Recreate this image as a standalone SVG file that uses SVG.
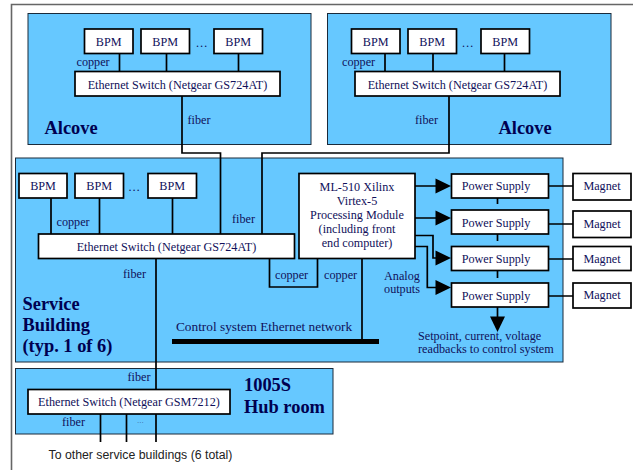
<svg xmlns="http://www.w3.org/2000/svg" width="633" height="470" viewBox="0 0 633 470">
<style>
text{font-family:"Liberation Serif","Times New Roman",serif;fill:#10105a;font-size:12.2px}
.m{text-anchor:middle}
.b{font-weight:bold;font-size:18.4px;fill:#000050}
.area{fill:#66c8ff;stroke:#1a2a3a;stroke-width:1}
.box{fill:#fff;stroke:#000;stroke-width:1.7}
.c{fill:none;stroke:#000;stroke-width:1.7}
.a{fill:#000;stroke:none}
</style>
<rect width="633" height="470" fill="#fff"/>
<path d="M11.500 470V4.500H633" fill="none" stroke="#666" stroke-width="1.6"/>
<g id="areas">
<rect id="alcove-1" class="area" x="28" y="13.500" width="283" height="131"/>
<rect id="alcove-2" class="area" x="327.500" y="13.500" width="283.500" height="131"/>
<rect id="service-building" class="area" x="15.500" y="158" width="547.500" height="204"/>
<rect id="hub-room" class="area" x="15.500" y="368.500" width="317.500" height="65.500"/>
</g>
<g id="connectors">
<path class="c" d="M119.500 53V71.500M166.500 53V71.500M238.500 53V71.500M182 96V153H220.500V234"/>
<path class="c" d="M385 53V71.500M433 53V71.500M504.500 53V71.500M449 96V153H262V234"/>
<path class="c" d="M51 198V234M99.500 198V234M172.500 198V234"/>
<path class="c" d="M156 258V442M269.500 258V287H317.500V258M362 258V342"/>
<path class="c" d="M100.500 414V442M126.500 414V442"/>
<path d="M172 341.500H379" fill="none" stroke="#000" stroke-width="5"/>
<path class="c" d="M415 186H440M415 218H440M415 235.500H433V258H440M415 246.500H427.300V287.500H440"/>
<path class="a" d="M435.500 178.500 451 186 435.500 193.500ZM435.500 210.500 451 218 435.500 225.500ZM435.500 250.500 451 258 435.500 265.500ZM435.500 280 451 287.500 435.500 295Z"/>
<path class="c" d="M497.500 198V204M497.500 234V241M497.500 270.500V278M497.500 307V322"/>
<path class="a" d="M490 316.500 505 316.500 497.500 332Z"/>
<path class="c" d="M548.500 186H573M548.500 224H573M548.500 259H573M548.500 296H573"/>
</g>
<g id="alcove-1-nodes">
<g id="a1-bpm1"><rect class="box" x="84.500" y="29" width="48.500" height="24.500"/><text class="m" x="108.700" y="46">BPM</text></g>
<g id="a1-bpm2"><rect class="box" x="141" y="29" width="48.500" height="24.500"/><text class="m" x="165.200" y="46">BPM</text></g>
<g id="a1-bpm3"><rect class="box" x="214" y="29" width="48.500" height="24.500"/><text class="m" x="238.200" y="46">BPM</text></g>
<g id="a1-switch"><rect class="box" x="75" y="71.500" width="205" height="24.500"/><text class="m" x="177.500" y="89">Ethernet Switch (Netgear GS724AT)</text></g>
</g>
<g id="alcove-2-nodes">
<g id="a2-bpm1"><rect class="box" x="351.500" y="29" width="48.500" height="24.500"/><text class="m" x="375.700" y="46">BPM</text></g>
<g id="a2-bpm2"><rect class="box" x="408" y="29" width="48.500" height="24.500"/><text class="m" x="432.200" y="46">BPM</text></g>
<g id="a2-bpm3"><rect class="box" x="481" y="29" width="48.500" height="24.500"/><text class="m" x="505.200" y="46">BPM</text></g>
<g id="a2-switch"><rect class="box" x="355" y="71.500" width="205" height="24.500"/><text class="m" x="457.500" y="89">Ethernet Switch (Netgear GS724AT)</text></g>
</g>
<g id="service-nodes">
<g id="s-bpm1"><rect class="box" x="19" y="173.500" width="48" height="24.500"/><text class="m" x="43" y="190">BPM</text></g>
<g id="s-bpm2"><rect class="box" x="75" y="173.500" width="48.500" height="24.500"/><text class="m" x="99.200" y="190">BPM</text></g>
<g id="s-bpm3"><rect class="box" x="148" y="173.500" width="48.500" height="24.500"/><text class="m" x="172.200" y="190">BPM</text></g>
<g id="s-switch"><rect class="box" x="38.500" y="234" width="256" height="24.500"/><text class="m" x="166.500" y="251">Ethernet Switch (Netgear GS724AT)</text></g>
<g id="processing"><rect class="box" x="299" y="173.500" width="116" height="85"/><text class="m" x="357" y="191">ML-510 Xilinx</text><text class="m" x="357" y="205">Virtex-5</text><text class="m" x="357" y="219">Processing Module</text><text class="m" x="357" y="233">(including front</text><text class="m" x="357" y="247">end computer)</text></g>
<g id="ps1"><rect class="box" x="451.500" y="174" width="97" height="24"/><text class="m" x="496" y="190">Power Supply</text></g>
<g id="ps2"><rect class="box" x="451.500" y="210" width="97" height="24"/><text class="m" x="496" y="227">Power Supply</text></g>
<g id="ps3"><rect class="box" x="451.500" y="246.500" width="97" height="24"/><text class="m" x="496" y="263">Power Supply</text></g>
<g id="ps4"><rect class="box" x="451.500" y="283" width="97" height="24"/><text class="m" x="496" y="300">Power Supply</text></g>
<g id="mag1"><rect class="box" x="573" y="173.500" width="58" height="26.500"/><text class="m" x="602" y="190">Magnet</text></g>
<g id="mag2"><rect class="box" x="573" y="211" width="58" height="26.500"/><text class="m" x="602" y="228">Magnet</text></g>
<g id="mag3"><rect class="box" x="573" y="246.500" width="58" height="24"/><text class="m" x="602" y="263">Magnet</text></g>
<g id="mag4"><rect class="box" x="573" y="283" width="58" height="25"/><text class="m" x="602" y="299">Magnet</text></g>
</g>
<g id="hub-nodes">
<g id="h-switch"><rect class="box" x="28" y="389.500" width="202" height="24.500"/><text class="m" x="129" y="406">Ethernet Switch (Netgear GSM7212)</text></g>
</g>
<g id="labels">
<text x="76.500" y="66">copper</text><text x="187.500" y="124">fiber</text><text class="b" x="44.500" y="134">Alcove</text><text x="201.500" y="46.500" class="m">…</text>
<text x="342" y="66">copper</text><text x="415" y="124">fiber</text><text class="b" x="498.500" y="134">Alcove</text><text x="467.500" y="46.500" class="m">…</text>
<text x="56.500" y="226">copper</text><text x="232" y="223">fiber</text><text x="134" y="190.500" class="m">…</text>
<text x="123" y="278">fiber</text><text x="275" y="279">copper</text><text x="324" y="279">copper</text>
<text class="m" x="402" y="280">Analog</text><text class="m" x="402" y="293">outputs</text>
<text class="b" x="22.500" y="310">Service</text><text class="b" x="22.500" y="331">Building</text><text class="b" x="22.500" y="352">(typ. 1 of 6)</text>
<text x="176" y="331" style="font-size:13.300px">Control system Ethernet network</text>
<text x="418" y="340">Setpoint, current, voltage</text><text x="418" y="353">readbacks to control system</text>
<text x="127.500" y="381">fiber</text><text x="62" y="426">fiber</text><text class="m" x="140.500" y="423" style="font-size:7px;letter-spacing:.5px;fill:#3a5a90">...</text>
<text class="b" x="244" y="391">1005S</text><text class="b" x="244" y="412.500">Hub room</text>
<text x="48.500" y="459" style="font-family:'Liberation Sans',Arial,sans-serif;font-size:12.300px;fill:#222">To other service buildings (6 total)</text>
</g>
</svg>
